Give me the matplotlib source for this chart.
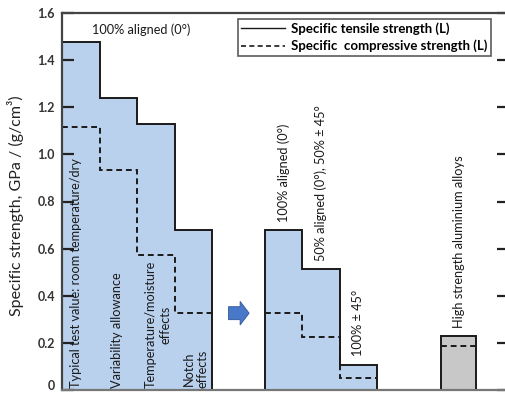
import matplotlib
matplotlib.use("Agg")
import matplotlib.pyplot as plt
import matplotlib.patches as mpatches
from matplotlib.lines import Line2D

plt.rcParams['font.family'] = ['Lato', 'DejaVu Sans']

# group 1: 100% aligned (0°), knock-down steps
edges1 = [0, 1, 2, 3, 4]
tensile1 = [1.475, 1.24, 1.127, 0.68]
compress1 = [1.115, 0.932, 0.572, 0.325]
labels1 = ["Typical test value: room temperature/dry", "Variability allowance",
           "Temperature/moisture\neffects", "Notch\neffects"]

# group 2: lay-ups
edges2 = [5.4, 6.4, 7.4, 8.4]
tensile2 = [0.68, 0.512, 0.108]
compress2 = [0.325, 0.226, 0.05]
labels2 = ["100% aligned (0°)", "50% aligned (0°), 50% ± 45°", "100% ± 45°"]

# aluminium
edges_al = [10.1, 11.05]
tensile_al = [0.228]
compress_al = [0.188]
label_al = "High strength aluminium alloys"

yticks = [0, 0.2, 0.4, 0.6, 0.8, 1.0, 1.2, 1.4, 1.6]
ytick_labels = ["0", "0.2", "0.4", "0.6", "0.8", "1.0", "1.2", "1.4", "1.6"]

blue = "#bad1ee"
grey = "#c8c8c8"
dark = "#1a1a1a"
fs = 9.2

fig = plt.figure(figsize=(5.06, 3.94), dpi=100)
ax = fig.add_axes([62 / 506, 4 / 394, 447 / 506, 377 / 394])

for edges, ten, comp, col in [(edges1, tensile1, compress1, blue),
                              (edges2, tensile2, compress2, blue),
                              (edges_al, tensile_al, compress_al, grey)]:
    ax.stairs(ten, edges, fill=True, color=col, baseline=0, zorder=1)
    ax.stairs(ten, edges, fill=False, color=dark, linewidth=1.4, baseline=0, zorder=2)
    ax.stairs(comp, edges, fill=False, color=dark, linewidth=1.4, linestyle=(0, (3, 2)),
              baseline=None, zorder=2)

# rotated labels inside group 1
shift1 = [-0.13, -0.03, 0.06, 0.07]
for i, lab in enumerate(labels1):
    xc = (edges1[i] + edges1[i + 1]) / 2
    ax.text(xc + shift1[i], 0.008, lab, rotation=90, ha="center", va="bottom",
            multialignment="center", fontsize=fs, color=dark, zorder=3)

# rotated labels above group 2 bars
for i, lab in enumerate(labels2):
    xc = (edges2[i] + edges2[i + 1]) / 2
    ax.text(xc, tensile2[i] + 0.035, lab, rotation=90, ha="center", va="bottom",
            fontsize=fs, color=dark, zorder=3)

ax.text((edges_al[0] + edges_al[1]) / 2, tensile_al[0] + 0.035, label_al, rotation=90,
        ha="center", va="bottom", fontsize=fs, color=dark)

ax.text(2.1, 1.528, "100% aligned (0°)", ha="center", va="center", fontsize=fs, color=dark)

# block arrow between the groups
ax.add_patch(mpatches.FancyArrow(4.44, 0.326, 0.31, 0, width=0.055, head_width=0.1,
                                 head_length=0.24, length_includes_head=False,
                                 facecolor="#4a78c8", edgecolor="#2f5597", linewidth=0.6))

handles = [Line2D([], [], color=dark, linewidth=1.0),
           Line2D([], [], color=dark, linewidth=1.2, linestyle=(0, (3, 2)))]
leg = ax.legend(handles, ["Specific tensile strength (L)", "Specific  compressive strength (L)"],
                loc="upper left", bbox_to_anchor=(176 / 447, 1 - 6 / 377),
                prop={"size": 9.5, "weight": "bold"},
                frameon=True, fancybox=False, handlelength=3.3, borderpad=0.25,
                labelspacing=0.35, handletextpad=0.5, borderaxespad=0)
leg.get_frame().set_edgecolor("#333333")
leg.get_frame().set_linewidth(1.2)

ax.set_xlim(0, 447 / 37.5)
ax.set_ylim(0, 1.6)
ax.set_yticks(yticks)
ax.set_yticklabels(ytick_labels, fontweight="bold", fontsize=9, color="#333333")
ax.get_yticklabels()[0].set_verticalalignment("baseline")
ax.set_xticks([])
ax.tick_params(axis="y", direction="in", length=8.5, width=1.6, color="#222222",
               right=True, pad=5)
for s in ax.spines.values():
    s.set_color("#444444")
    s.set_linewidth(1.6)
ax.spines["bottom"].set_color("#777777")

ax.set_ylabel("Specific strength, GPa / (g/cm³)", fontsize=11.5, color="#222222")
ax.yaxis.set_label_coords(-0.085, 0.49)

fig.savefig("out.png", dpi=100)
